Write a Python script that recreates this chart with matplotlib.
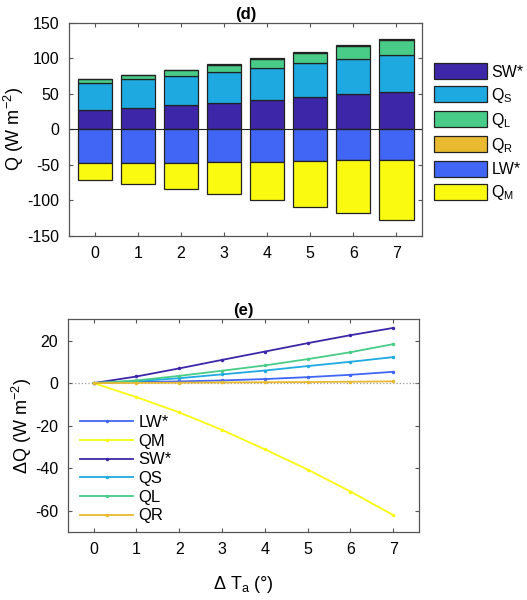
import matplotlib
matplotlib.use("Agg")
import matplotlib.pyplot as plt
import numpy as np

plt.rcParams['font.family'] = ['Liberation Sans', 'DejaVu Sans']
plt.rcParams['mathtext.fontset'] = 'custom'
plt.rcParams['mathtext.rm'] = 'Liberation Sans'
plt.rcParams['mathtext.it'] = 'Liberation Sans'
plt.rcParams['axes.unicode_minus'] = False

# warming steps
dT = [0, 1, 2, 3, 4, 5, 6, 7]

# energy balance components (W m-2), panel (d)
sw = [26.8, 30.5, 33.8, 37.6, 41.8, 45.5, 49.8, 53.0]
qs = [38.9, 39.9, 41.8, 43.6, 45.1, 47.5, 48.8, 51.2]
ql = [4.7, 6.1, 7.5, 9.8, 12.5, 14.9, 19.0, 22.2]
qr = [0.5, 0.5, 0.5, 0.5, 0.6, 0.6, 0.7, 0.8]
lw = [-47.9, -47.4, -47.0, -46.5, -45.5, -44.6, -43.7, -42.7]
qm = [-23.0, -29.1, -37.0, -45.0, -54.5, -64.4, -74.1, -85.0]

# changes relative to dT = 0, panel (e)
d_lw = [0, 0.5, 0.8, 1.25, 1.9, 2.8, 3.9, 5.3]
d_qm = [0, -6.6, -13.75, -22.0, -31.1, -40.6, -50.9, -62.0]
d_sw = [0, 3.1, 6.9, 10.9, 14.8, 18.75, 22.5, 25.9]
d_qs = [0, 0.9, 2.3, 4.1, 5.9, 8.0, 10.0, 12.2]
d_ql = [0, 1.25, 3.4, 5.8, 8.3, 11.25, 14.5, 18.3]
d_qr = [0, 0.1, 0.2, 0.3, 0.4, 0.5, 0.65, 0.8]

c_sw = '#3E26A8'
c_qs = '#1EAAE0'
c_ql = '#48CC88'
c_qr = '#E9B92F'
c_lw = '#4166F5'
c_qm = '#F9FA10'
axc = '#555555'

fig = plt.figure(figsize=(5.27, 6.0), dpi=100)
ax1 = fig.add_axes([0.131, 0.607, 0.670, 0.355])
ax2 = fig.add_axes([0.129, 0.113, 0.666, 0.355])

x = np.array(dT)
w = 0.8
kw = dict(width=w, edgecolor='#222222', linewidth=0.9)
bottom = np.zeros(len(x))
for vals, col, lab in [(sw, c_sw, 'SW*'), (qs, c_qs, '$\\mathregular{Q_S}$'),
                       (ql, c_ql, '$\\mathregular{Q_L}$'), (qr, c_qr, '$\\mathregular{Q_R}$')]:
    ax1.bar(x, vals, bottom=bottom, color=col, label=lab, **kw)
    bottom = bottom + np.array(vals)
bottom = np.zeros(len(x))
for vals, col, lab in [(lw, c_lw, 'LW*'), (qm, c_qm, '$\\mathregular{Q_M}$')]:
    ax1.bar(x, vals, bottom=bottom, color=col, label=lab, **kw)
    bottom = bottom + np.array(vals)
ax1.axhline(0, color='#222222', linewidth=0.8)
ax1.set_xlim(-0.6, 7.6)
ax1.set_ylim(-150, 150)
ax1.set_yticks([-150, -100, -50, 0, 50, 100, 150])
ax1.set_xticks(dT)
ax1.set_ylabel('Q (W m$^{\\mathregular{-2}}$)', fontsize=13, labelpad=1)
ax1.set_title('(d)', fontsize=12, fontweight='bold', pad=3)
ax1.legend(loc='upper left', bbox_to_anchor=(1.015, 0.84), frameon=False,
           fontsize=11.5, handlelength=3.3, handleheight=1.15, handletextpad=0.3,
           labelspacing=0.38, borderaxespad=0)

lines = [(d_lw, c_lw, 'LW*'), (d_qm, c_qm, 'QM'), (d_sw, c_sw, 'SW*'),
         (d_qs, c_qs, 'QS'), (d_ql, c_ql, 'QL'), (d_qr, c_qr, 'QR')]
ax2.axhline(0, color='#999999', linewidth=0.9, linestyle=':')
for vals, col, lab in lines:
    ax2.plot(dT, vals, color=col, linewidth=1.3, marker='.', markersize=3, label=lab)
ax2.set_xlim(-0.6, 7.6)
ax2.set_ylim(-70, 30)
ax2.set_yticks([-60, -40, -20, 0, 20])
ax2.set_xticks(dT)
ax2.set_ylabel('ΔQ (W m$^{\\mathregular{-2}}$)', fontsize=13, labelpad=1)
ax2.set_xlabel('Δ T$_{\\mathregular{a}}$ (°)', fontsize=13, labelpad=12)
ax2.set_title('(e)', fontsize=12, fontweight='bold', pad=3)
ax2.legend(loc='lower left', bbox_to_anchor=(0.015, 0.01), frameon=False,
           fontsize=12, handlelength=3.2, handletextpad=0.3, labelspacing=0.22,
           borderaxespad=0)

for ax in (ax1, ax2):
    ax.tick_params(direction='in', top=True, right=True, labelsize=11.5,
                   color=axc, length=3, pad=7)
    for s in ax.spines.values():
        s.set_color(axc)
        s.set_linewidth(0.9)

fig.savefig('out.png', dpi=100)
